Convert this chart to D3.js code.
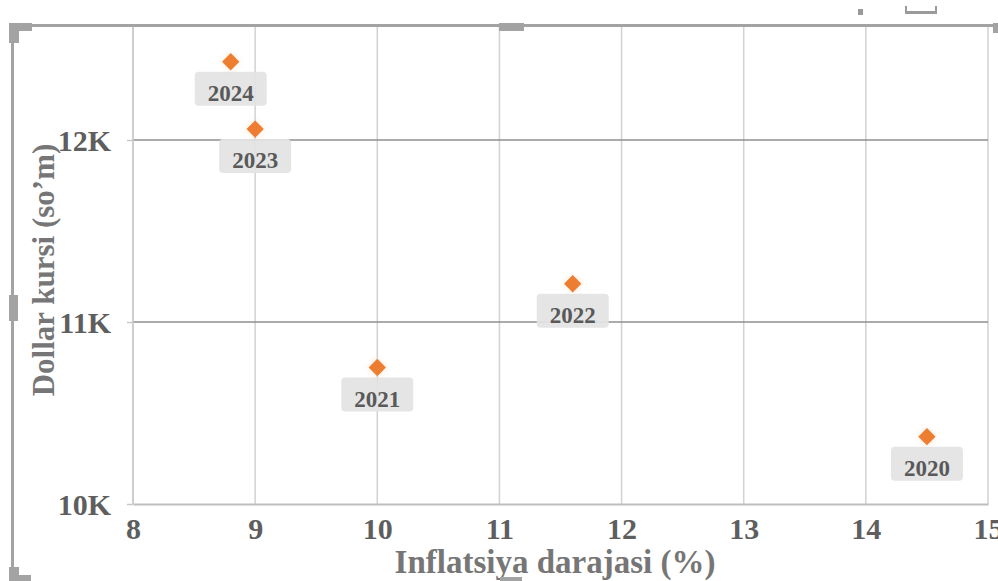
<!DOCTYPE html>
<html>
<head>
<meta charset="utf-8">
<script src="https://cdn.jsdelivr.net/npm/d3@7"></script>
<style>
  html, body { margin: 0; padding: 0; background: #ffffff; }
  svg { display: block; }
  text { font-family: "Liberation Serif", "Times New Roman", serif; font-weight: bold; }
</style>
</head>
<body>
<svg id="chart" width="998" height="581"></svg>
<script>
// Inflation vs. USD exchange rate, Uzbekistan 2020–2024
const years = ["2020", "2021", "2022", "2023", "2024"];
const inflation = [14.5, 10.0, 11.6, 9.0, 8.8];          // %
const usdRate = [10370, 10750, 11210, 12060, 12430];     // so'm per dollar
const xTicks = [8, 9, 10, 11, 12, 13, 14, 15];
const yTicks = [10000, 11000, 12000];
const yTickLabels = ["10K", "11K", "12K"];
const xTitle = "Inflatsiya darajasi (%)";
const yTitle = "Dollar kursi (so\u2019m)";

const svg = d3.select("#chart");
const W = 998, H = 581;
const plot = { left: 133, right: 988, top: 27, bottom: 504 };

const x = d3.scaleLinear().domain([8, 15]).range([plot.left, plot.right]);
const y = d3.scaleLinear().domain([10000, 12000]).range([plot.bottom, 140]);

const points = years.map((yr, i) => ({ year: yr, infl: inflation[i], rate: usdRate[i] }));

// vertical gridlines
svg.append("g")
  .selectAll("line").data(xTicks).join("line")
  .attr("x1", d => x(d)).attr("x2", d => x(d))
  .attr("y1", plot.top).attr("y2", plot.bottom)
  .attr("stroke", "#d2d2d2").attr("stroke-width", 1.5);

// horizontal gridlines
svg.append("g")
  .selectAll("line").data(yTicks.slice(1)).join("line")
  .attr("x1", plot.left).attr("x2", plot.right)
  .attr("y1", d => y(d)).attr("y2", d => y(d))
  .attr("stroke", "#8f8f8f").attr("stroke-width", 1.5);

// y axis (left)
const yAxis = d3.axisLeft(y).tickValues(yTicks)
  .tickFormat((d, i) => yTickLabels[i]).tickSize(6).tickPadding(16);
const gy = svg.append("g").attr("transform", `translate(${plot.left},0)`).call(yAxis);
gy.select(".domain").attr("stroke", "#c8c8c8").attr("stroke-width", 1.5)
  .attr("d", `M0,${plot.top}V${plot.bottom}`);
gy.selectAll(".tick line").attr("stroke", "#c8c8c8").attr("stroke-width", 1.5);
gy.selectAll(".tick text")
  .attr("fill", "#5e5e5e").style("font-size", "30px")
  .attr("dy", "0.34em");

// x axis (bottom)
const xAxis = d3.axisBottom(x).tickValues(xTicks).tickFormat(d3.format("d"))
  .tickSize(0).tickPadding(14);
const gx = svg.append("g").attr("transform", `translate(0,${plot.bottom})`).call(xAxis);
gx.select(".domain").attr("stroke", "#bdbdbd").attr("stroke-width", 2);
gx.selectAll(".tick text")
  .attr("fill", "#5e5e5e").style("font-size", "30px");

// axis titles
svg.append("text")
  .attr("x", 555).attr("y", 573)
  .attr("text-anchor", "middle").attr("fill", "#767676")
  .style("font-size", "33px").text(xTitle);
svg.append("text")
  .attr("transform", `translate(54,270) rotate(-90)`)
  .attr("text-anchor", "middle").attr("fill", "#767676")
  .style("font-size", "31px").text(yTitle);

// data labels (below each point)
const lbl = svg.append("g").selectAll("g").data(points).join("g")
  .attr("transform", d => `translate(${x(d.infl)},${y(d.rate)})`);
lbl.append("rect")
  .attr("x", -36).attr("y", 10).attr("width", 72).attr("height", 34).attr("rx", 4)
  .attr("fill", "#e3e3e3").attr("fill-opacity", 0.92);
lbl.append("text")
  .attr("y", 39).attr("text-anchor", "middle").attr("fill", "#595959")
  .style("font-size", "23px").text(d => d.year);

// soft glow + diamond markers
const defs = svg.append("defs");
defs.append("filter").attr("id", "glow").attr("x", "-100%").attr("y", "-100%")
  .attr("width", "300%").attr("height", "300%")
  .append("feGaussianBlur").attr("stdDeviation", 3);
const diamond = d3.symbol().type(d3.symbolSquare).size(150);
svg.append("g").selectAll("path").data(points).join("path")
  .attr("d", diamond)
  .attr("transform", d => `translate(${x(d.infl)},${y(d.rate)}) rotate(45)`)
  .attr("fill", "#f7c9a4").attr("opacity", 0.5).attr("filter", "url(#glow)");
svg.append("g").selectAll("path").data(points).join("path")
  .attr("d", diamond)
  .attr("transform", d => `translate(${x(d.infl)},${y(d.rate)}) rotate(45)`)
  .attr("fill", "#ed7d31");

// selection frame with sizing handles
const frame = svg.append("g").attr("fill", "#a3a3a3");
frame.append("rect").attr("x", 12).attr("y", 24).attr("width", W - 12).attr("height", 3);
frame.append("rect").attr("x", 11).attr("y", 24).attr("width", 3).attr("height", H - 24);
frame.append("rect").attr("x", 9).attr("y", 23).attr("width", 23).attr("height", 8);
frame.append("rect").attr("x", 9).attr("y", 23).attr("width", 10).attr("height", 20);
frame.append("rect").attr("x", 499).attr("y", 23).attr("width", 25).attr("height", 8);
frame.append("rect").attr("x", 9).attr("y", 295).attr("width", 9).attr("height", 26);
frame.append("rect").attr("x", 9).attr("y", 567).attr("width", 10).attr("height", 14);
frame.append("rect").attr("x", 9).attr("y", 575).attr("width", 22).attr("height", 6);
frame.append("rect").attr("x", 500).attr("y", 577).attr("width", 22).attr("height", 4);
frame.append("rect").attr("x", 993).attr("y", 23).attr("width", 5).attr("height", 10);
frame.append("rect").attr("x", 858).attr("y", 9).attr("width", 5).attr("height", 6).attr("fill", "#9a9a9a");
frame.append("rect").attr("x", 905).attr("y", 11).attr("width", 32).attr("height", 3).attr("fill", "#9a9a9a");
frame.append("rect").attr("x", 905).attr("y", 6).attr("width", 2).attr("height", 7).attr("fill", "#9a9a9a");
frame.append("rect").attr("x", 935).attr("y", 6).attr("width", 2).attr("height", 7).attr("fill", "#9a9a9a");
</script>
</body>
</html>
